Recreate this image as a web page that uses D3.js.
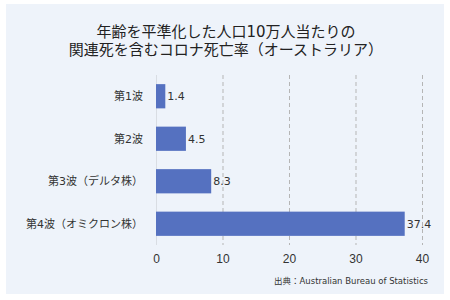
<!DOCTYPE html>
<html lang="ja">
<head>
<meta charset="UTF-8">
<title>コロナ死亡率</title>
<script src="https://d3js.org/d3.v7.min.js"></script>
<style>
    * { margin: 0; padding: 0; box-sizing: border-box; }
    body {
        width: 450px;
        height: 300px;
        background: #fff;
        font-family: "DejaVu Sans", "Noto Sans CJK JP", sans-serif;
    }
    .axis text { fill: #333; font-size: 12px; }
    .cat-label { fill: #333; font-size: 11px; }
    .label { fill: #333; font-size: 11px; }
</style>
</head>
<body>
<div id="chart"></div>
<script>
    // データ
    const categories = ["第1波", "第2波", "第3波（デルタ株）", "第4波（オミクロン株）"];
    const values = [1.4, 4.5, 8.3, 37.4];
    const tickValues = [0, 10, 20, 30, 40];
    const titleLines = ["年齢を平準化した人口10万人当たりの", "関連死を含むコロナ死亡率（オーストラリア）"];
    const sourceText = "出典：Australian Bureau of Statistics";

    const W = 450, H = 300;
    const svg = d3.select("#chart").append("svg")
        .attr("width", W)
        .attr("height", H);

    // 背景パネル
    svg.append("rect")
        .attr("x", 6).attr("y", 4)
        .attr("width", 438).attr("height", 290)
        .attr("fill", "#eef3fa");

    // タイトル
    svg.selectAll(".title")
        .data(titleLines)
        .enter()
        .append("text")
        .attr("class", "title")
        .attr("x", 226)
        .attr("y", (d, i) => 32 + i * 18)
        .attr("dy", "0.35em")
        .attr("text-anchor", "middle")
        .attr("fill", "#222")
        .style("font-size", "15px")
        .text(d => d);

    const x = d3.scaleLinear().domain([0, 40]).range([156, 422]);
    const y = d3.scaleBand()
        .domain(categories)
        .range([75, 245])
        .paddingInner(0.43)
        .paddingOuter(0.215);

    // グリッド線
    svg.selectAll(".grid")
        .data(tickValues)
        .enter()
        .append("line")
        .attr("class", "grid")
        .attr("x1", d => x(d) + 0.5)
        .attr("x2", d => x(d) + 0.5)
        .attr("y1", 75)
        .attr("y2", 245)
        .attr("stroke", d => d === 0 ? "#d9dde3" : "#b5b5b5")
        .attr("stroke-dasharray", d => d === 0 ? null : "4,3");

    // X軸
    const xAxis = svg.append("g")
        .attr("class", "axis")
        .attr("transform", "translate(0,250)")
        .call(d3.axisBottom(x).tickValues(tickValues).tickSize(0).tickPadding(4));
    xAxis.select(".domain").remove();

    // バー
    svg.selectAll(".bar")
        .data(values)
        .enter()
        .append("rect")
        .attr("class", "bar")
        .attr("x", x(0))
        .attr("y", (d, i) => y(categories[i]))
        .attr("width", d => x(d) - x(0))
        .attr("height", y.bandwidth())
        .attr("fill", "#5571c0");

    // 値ラベル
    svg.selectAll(".label")
        .data(values)
        .enter()
        .append("text")
        .attr("class", "label")
        .attr("x", d => x(d) + 2)
        .attr("y", (d, i) => y(categories[i]) + y.bandwidth() / 2)
        .attr("dy", "0.35em")
        .text(d => d.toFixed(1));

    // カテゴリラベル
    svg.selectAll(".cat-label")
        .data(categories)
        .enter()
        .append("text")
        .attr("class", "cat-label")
        .attr("x", 143)
        .attr("y", d => y(d) + y.bandwidth() / 2)
        .attr("dy", "0.35em")
        .attr("text-anchor", "end")
        .text(d => d);

    // 出典
    svg.append("text")
        .attr("x", 428)
        .attr("y", 281)
        .attr("dy", "0.35em")
        .attr("text-anchor", "end")
        .attr("fill", "#333")
        .style("font-size", "8.5px")
        .text(sourceText);
</script>
</body>
</html>
